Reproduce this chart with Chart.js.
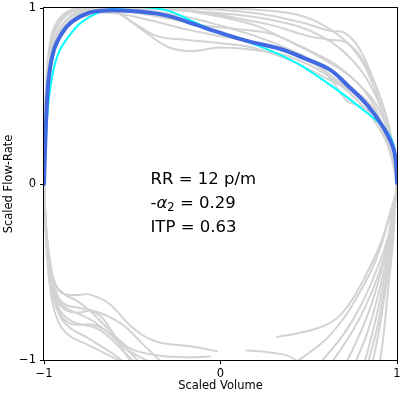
<!DOCTYPE html>
<html><head><meta charset="utf-8">
<script src="https://cdn.jsdelivr.net/npm/chart.js@4.4.1/dist/chart.umd.min.js"></script>
<style>html,body{margin:0;padding:0;background:#fff}canvas{display:block}</style>
</head><body>
<canvas id="c" width="401" height="394"></canvas>
<script>
// ---- data (scaled volume, scaled flow-rate) ----
const xTicks = [-1, 0, 1];
const yTicks = [-1, 0, 1];
const xTitle = 'Scaled Volume';
const yTitle = 'Scaled Flow-Rate';
const rrText = 'RR = 12 p/m';
const alphaValue = '0.29';
const itpText = 'ITP = 0.63';

const blueLoop = [[-1,0],[-0.987,0.383],[-0.972,0.61],[-0.943,0.764],[-0.896,0.86],[-0.841,0.923],[-0.744,0.974],[-0.648,0.986],[-0.557,0.986],[-0.46,0.98],[-0.36,0.968],[-0.26,0.945],[-0.14,0.905],[-0.023,0.866],[0.165,0.809],[0.335,0.769],[0.466,0.718],[0.619,0.65],[0.716,0.564],[0.83,0.45],[0.92,0.325],[0.977,0.211],[0.994,0.12],[1,0.006]];
const cyanLoop = [[-1,0],[-0.982,0.383],[-0.954,0.61],[-0.917,0.746],[-0.86,0.838],[-0.79,0.917],[-0.693,0.974],[-0.597,0.998],[-0.45,1.005],[-0.3,0.985],[-0.16,0.925],[-0.023,0.866],[0.165,0.803],[0.335,0.735],[0.466,0.667],[0.659,0.536],[0.807,0.422],[0.92,0.325],[0.975,0.24],[0.995,0.12],[1,0.006]];

const grayUp1 = [[-1,0],[-0.99,0.5],[-0.96,0.78],[-0.9,0.93],[-0.8,0.99],[-0.6,1.0],[-0.2,1.0],[0.2,0.97],[0.45,0.92],[0.62,0.87],[0.7,0.86],[0.78,0.78],[0.86,0.61],[0.93,0.42],[0.97,0.25],[1,0]];
const grayUp2 = [[-1,0],[-0.99,0.48],[-0.96,0.75],[-0.9,0.9],[-0.8,0.98],[-0.6,1.0],[-0.3,0.99],[0,0.97],[0.3,0.93],[0.55,0.85],[0.75,0.7],[0.88,0.5],[0.95,0.3],[0.99,0.1],[1,0]];
const grayUp3 = [[-1,0],[-0.985,0.45],[-0.95,0.74],[-0.88,0.9],[-0.75,0.98],[-0.6,0.98],[-0.45,0.88],[-0.3,0.78],[-0.17,0.755],[0,0.775],[0.2,0.76],[0.4,0.72],[0.6,0.62],[0.8,0.45],[0.92,0.28],[0.98,0.12],[1,0]];
const grayUp4 = [[-1,0],[-0.985,0.45],[-0.95,0.75],[-0.88,0.92],[-0.75,0.99],[-0.62,0.99],[-0.5,0.92],[-0.36,0.84],[-0.2,0.82],[0,0.8],[0.2,0.77],[0.4,0.7],[0.6,0.6],[0.75,0.52],[0.85,0.43],[0.93,0.3],[0.98,0.15],[1,0]];
const grayUp5 = [[-1,0],[-0.99,0.4],[-0.96,0.68],[-0.9,0.85],[-0.8,0.95],[-0.65,0.99],[-0.45,0.99],[-0.2,0.95],[0,0.9],[0.2,0.84],[0.4,0.76],[0.55,0.68],[0.65,0.56],[0.72,0.47],[0.8,0.44],[0.88,0.38],[0.94,0.25],[0.98,0.1],[1,0]];
const grayUp6 = [[-1,0],[-0.99,0.5],[-0.97,0.78],[-0.92,0.93],[-0.82,1.0],[-0.6,1.02],[-0.3,1.0],[0,0.95],[0.2,0.9],[0.35,0.83],[0.5,0.76],[0.65,0.68],[0.8,0.55],[0.9,0.42],[0.96,0.25],[1,0]];
const grayUp7 = [[-1,0],[-0.985,0.42],[-0.955,0.7],[-0.9,0.86],[-0.8,0.96],[-0.65,1.0],[-0.45,1.01],[-0.2,0.99],[0.05,0.95],[0.3,0.9],[0.5,0.84],[0.62,0.82],[0.72,0.8],[0.82,0.68],[0.9,0.5],[0.96,0.3],[1,0]];
const grayUp8 = [[-1,0],[-0.99,0.46],[-0.96,0.74],[-0.9,0.9],[-0.8,0.97],[-0.55,0.98],[-0.3,0.94],[-0.1,0.9],[0.1,0.88],[0.3,0.85],[0.45,0.78],[0.6,0.7],[0.75,0.6],[0.85,0.48],[0.92,0.33],[0.97,0.18],[1,0]];
const grayUp9 = [[-1,0],[-0.99,0.5],[-0.965,0.78],[-0.92,0.92],[-0.85,0.98],[-0.7,1.01],[-0.3,1.01],[0,1.0],[0.2,0.99],[0.4,0.97],[0.55,0.92],[0.7,0.82],[0.8,0.7],[0.88,0.52],[0.94,0.34],[0.98,0.15],[1,0]];
const grayUp10 = [[-1,0],[-0.985,0.44],[-0.95,0.72],[-0.88,0.88],[-0.75,0.96],[-0.6,0.97],[-0.4,0.93],[-0.2,0.88],[0,0.84],[0.2,0.8],[0.4,0.74],[0.55,0.67],[0.7,0.56],[0.8,0.5],[0.87,0.42],[0.92,0.3],[0.97,0.15],[1,0]];

const grayLow1 = [[-1,0],[-0.985,-0.28],[-0.955,-0.5],[-0.92,-0.6],[-0.875,-0.627],[-0.8,-0.63],[-0.744,-0.627],[-0.63,-0.68],[-0.5,-0.815],[-0.364,-0.895],[-0.19,-0.92],[-0.12,-0.93],[-0.02,-0.95]];
const grayLow2 = [[-1,0],[-0.985,-0.3],[-0.955,-0.52],[-0.92,-0.64],[-0.87,-0.69],[-0.818,-0.7],[-0.69,-0.73],[-0.6,-0.77],[-0.534,-0.815],[-0.45,-0.9],[-0.347,-1.0]];
const grayLow3 = [[-1,0],[-0.985,-0.3],[-0.96,-0.52],[-0.93,-0.64],[-0.88,-0.7],[-0.8,-0.74],[-0.72,-0.78],[-0.62,-0.86],[-0.52,-0.95],[-0.45,-1.02]];
const grayLow4 = [[-1,0],[-0.985,-0.32],[-0.96,-0.55],[-0.92,-0.7],[-0.86,-0.77],[-0.78,-0.8],[-0.7,-0.82],[-0.62,-0.88],[-0.55,-0.95],[-0.48,-1.02]];
const grayLow5 = [[-1,0],[-0.985,-0.35],[-0.955,-0.6],[-0.91,-0.75],[-0.85,-0.82],[-0.76,-0.87],[-0.68,-0.92],[-0.6,-0.97],[-0.54,-1.02]];
const grayLow6 = [[-1,0],[-0.985,-0.33],[-0.96,-0.56],[-0.93,-0.66],[-0.87,-0.72],[-0.8,-0.73],[-0.74,-0.72],[-0.68,-0.75],[-0.62,-0.83],[-0.56,-0.93],[-0.5,-1.02]];
const grayLow7 = [[-1,0],[-0.985,-0.34],[-0.96,-0.58],[-0.92,-0.72],[-0.86,-0.79],[-0.8,-0.8],[-0.72,-0.8],[-0.64,-0.84],[-0.58,-0.9],[-0.5,-0.96],[-0.4,-1.01]];
const grayLow8 = [[-1,0],[-0.985,-0.38],[-0.96,-0.63],[-0.92,-0.78],[-0.86,-0.86],[-0.78,-0.9],[-0.7,-0.94],[-0.62,-0.98],[-0.56,-1.01]];
const grayLow9 = [[-1,0],[-0.985,-0.28],[-0.96,-0.48],[-0.93,-0.58],[-0.88,-0.63],[-0.82,-0.66],[-0.74,-0.72],[-0.66,-0.8],[-0.58,-0.88],[-0.5,-0.94],[-0.35,-0.975],[-0.2,-0.985],[-0.06,-0.98]];
const grayBottom1 = [[0.148,-0.946],[0.278,-0.957],[0.38,-0.975],[0.44,-1.01]];

const grayRight1 = [[1,0],[0.99,-0.06],[0.977,-0.11],[0.95,-0.2],[0.92,-0.3],[0.885,-0.39],[0.847,-0.47],[0.78,-0.6],[0.716,-0.7],[0.65,-0.77],[0.5625,-0.815],[0.45,-0.845],[0.318,-0.87]];
const grayRight2 = [[1,0],[0.99,-0.08],[0.97,-0.15],[0.94,-0.25],[0.9,-0.38],[0.85,-0.5],[0.78,-0.63],[0.7,-0.76],[0.6,-0.88],[0.5,-0.96],[0.43,-1.01]];
const grayRight3 = [[1,0],[0.995,-0.06],[0.98,-0.14],[0.955,-0.3],[0.9,-0.5],[0.82,-0.7],[0.74,-0.85],[0.64,-1.0]];
const grayRight4 = [[1,0],[0.995,-0.06],[0.98,-0.14],[0.96,-0.3],[0.91,-0.5],[0.85,-0.7],[0.79,-0.85],[0.72,-1.0]];
const grayRight5 = [[1,0],[0.995,-0.06],[0.98,-0.14],[0.965,-0.3],[0.925,-0.5],[0.875,-0.7],[0.83,-0.85],[0.77,-1.0]];
const grayRight6 = [[1,0],[0.995,-0.06],[0.98,-0.14],[0.97,-0.3],[0.935,-0.5],[0.895,-0.7],[0.86,-0.85],[0.82,-1.0]];
const grayRight7 = [[1,0],[0.995,-0.06],[0.985,-0.14],[0.975,-0.3],[0.95,-0.5],[0.92,-0.7],[0.895,-0.85],[0.865,-1.0]];
const grayRight8 = [[1,0],[0.995,-0.06],[0.988,-0.14],[0.98,-0.3],[0.96,-0.5],[0.94,-0.7],[0.925,-0.85],[0.905,-1.0]];
const grayRight9 = [[1,0],[0.995,-0.06],[0.975,-0.14],[0.95,-0.3],[0.88,-0.5],[0.79,-0.7],[0.7,-0.85],[0.58,-1.0]];
const grayRight10 = [[1,0],[0.995,-0.06],[0.982,-0.14],[0.97,-0.3],[0.945,-0.5],[0.91,-0.7],[0.88,-0.85],[0.84,-1.0]];

const grayCurves = [grayUp1,grayUp2,grayUp3,grayUp4,grayUp5,grayUp6,grayUp7,grayUp8,grayUp9,grayUp10,
  grayLow1,grayLow2,grayLow3,grayLow4,grayLow5,grayLow6,grayLow7,grayLow8,grayLow9,grayBottom1,
  grayRight1,grayRight2,grayRight3,grayRight4,grayRight5,grayRight6,grayRight7,grayRight8,grayRight9,grayRight10];

const toPts = a => a.map(p => ({x: p[0], y: p[1]}));
const FONT = "'DejaVu Sans', sans-serif";
const fmt = v => v < 0 ? '\u2212' + Math.abs(v) : String(v);

const datasets = [
  {data: toPts(blueLoop), borderColor: '#4169e1', borderWidth: 4},
  {data: toPts(cyanLoop), borderColor: '#00ffff', borderWidth: 2},
  ...grayCurves.map(c => ({data: toPts(c), borderColor: '#d3d3d3', borderWidth: 2}))
].map(d => Object.assign(d, {showLine: true, pointRadius: 0, tension: 0.4, clip: 0, fill: false, borderCapStyle: 'round', borderJoinStyle: 'round'}));

const boxAndText = {
  id: 'boxAndText',
  afterDraw(chart) {
    const {ctx, chartArea: a} = chart;
    ctx.save();
    ctx.strokeStyle = '#000'; ctx.lineWidth = 1;
    ctx.strokeRect(Math.round(a.left) - 0.5, Math.round(a.top) - 0.5, Math.round(a.right - a.left) + 1, Math.round(a.bottom - a.top) + 1);
    ctx.fillStyle = '#000';
    ctx.textBaseline = 'alphabetic';
    ctx.textAlign = 'left';
    const x0 = 150.5;
    const fs = 16.5;
    ctx.font = fs + 'px ' + FONT;
    ctx.fillText(rrText, x0, 183.5);
    // -α₂ = 0.29
    let x = x0;
    ctx.fillText('-', x, 207.7); x += ctx.measureText('-').width;
    ctx.font = 'italic ' + fs + 'px ' + FONT;
    ctx.fillText('\u03b1', x, 207.7); x += ctx.measureText('\u03b1').width;
    ctx.font = (fs * 0.7) + 'px ' + FONT;
    ctx.fillText('2', x, 211); x += ctx.measureText('2').width;
    ctx.font = fs + 'px ' + FONT;
    ctx.fillText(' = ' + alphaValue, x, 207.7);
    ctx.fillText(itpText, x0, 231.9);
    ctx.restore();
  }
};

new Chart(document.getElementById('c'), {
  type: 'scatter',
  data: {datasets},
  plugins: [boxAndText],
  options: {
    responsive: false,
    animation: false,
    devicePixelRatio: 1,
    layout: {padding: {top: 8, right: 4, left: 0, bottom: 0}},
    plugins: {legend: {display: false}, tooltip: {enabled: false}},
    scales: {
      x: {
        type: 'linear', min: -1, max: 1,
        afterBuildTicks: s => { s.ticks = xTicks.map(v => ({value: v})); },
        afterFit: s => { s.height = 34; s.paddingRight = 0; s.paddingLeft = 0; },
        grid: {drawOnChartArea: false, drawTicks: true, tickLength: 4, color: '#000', lineWidth: 1},
        border: {display: false},
        ticks: {color: '#000', padding: 3, font: {family: FONT, size: 11.5}, callback: v => fmt(v), maxRotation: 0},
        title: {display: true, text: xTitle, color: '#000', font: {family: FONT, size: 11.5}, padding: {top: 0, bottom: 1}}
      },
      y: {
        type: 'linear', min: -1, max: 1,
        afterBuildTicks: s => { s.ticks = yTicks.map(v => ({value: v})); },
        afterFit: s => { s.width = 44; s.paddingTop = 0; s.paddingBottom = 0; },
        grid: {drawOnChartArea: false, drawTicks: true, tickLength: 4, color: '#000', lineWidth: 1},
        border: {display: false},
        ticks: {color: '#000', padding: 4, font: {family: FONT, size: 11.5}, callback: v => fmt(v)},
        title: {display: true, text: yTitle, color: '#000', font: {family: FONT, size: 11.5}, padding: {top: 2, bottom: 0}}
      }
    }
  }
});
</script>
</body></html>
